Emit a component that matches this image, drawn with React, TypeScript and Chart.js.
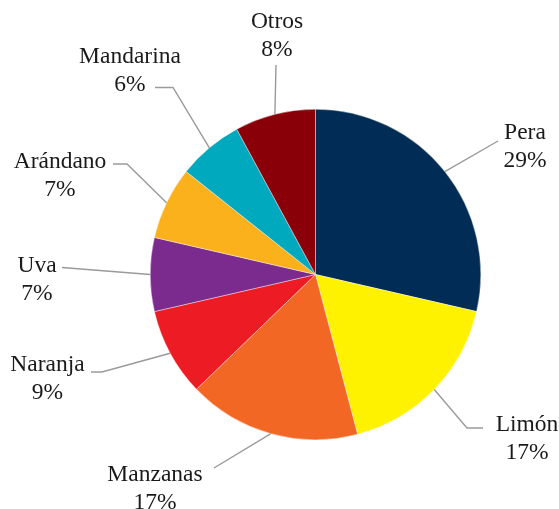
import React, { useEffect, useRef } from "react";
import { Chart, registerables } from "chart.js";

Chart.register(...registerables);

const categories = ["Pera", "Limón", "Manzanas", "Naranja", "Uva", "Arándano", "Mandarina", "Otros"];
const values = [28.6, 17.3, 16.9, 8.6, 7.2, 7.1, 6.4, 7.9];
const colors = ["#002C55", "#FFF200", "#F26724", "#ED1C24", "#7B2A8E", "#FBB11C", "#00A9BE", "#8A0008"];

// label layout: text centre x, first-line baseline y, leader path points (from label toward the pie)
const labelLayout = [
  { x: 525, y: 139, path: [[498, 141]] },
  { x: 527, y: 430.5, path: [[483, 428], [467, 428]] },
  { x: 155, y: 480.5, path: [[214, 468]] },
  { x: 47.5, y: 370.5, path: [[91, 372], [102, 372]] },
  { x: 37, y: 271.5, path: [[62, 267.5]] },
  { x: 60, y: 168.3, path: [[113, 164], [127, 164]] },
  { x: 130, y: 63, path: [[155, 87.5], [173, 87.5]] },
  { x: 277, y: 28, path: [[276, 65]] },
];

const FONT = '23.5px "Liberation Serif"';

const labelPlugin = {
  id: "pieLabels",
  afterDraw(chart: any) {
    const ctx = chart.ctx;
    const meta = chart.getDatasetMeta(0);
    const total = values.reduce((a, b) => a + b, 0);
    ctx.save();
    meta.data.forEach((arc: any, i: number) => {
      const p = arc.getProps(["x", "y", "startAngle", "endAngle", "outerRadius"], true);
      const mid = (p.startAngle + p.endAngle) / 2;
      const ax = p.x + Math.cos(mid) * p.outerRadius;
      const ay = p.y + Math.sin(mid) * p.outerRadius;
      const lay = labelLayout[i];
      ctx.beginPath();
      ctx.strokeStyle = "#9a9a9a";
      ctx.lineWidth = 1.4;
      ctx.moveTo(lay.path[0][0], lay.path[0][1]);
      for (let k = 1; k < lay.path.length; k++) ctx.lineTo(lay.path[k][0], lay.path[k][1]);
      ctx.lineTo(ax, ay);
      ctx.stroke();

      ctx.fillStyle = "#1a1a1a";
      ctx.font = FONT;
      ctx.textAlign = "center";
      ctx.textBaseline = "alphabetic";
      const pct = Math.round((values[i] / total) * 100) + "%";
      ctx.fillText(categories[i], lay.x, lay.y);
      ctx.fillText(pct, lay.x, lay.y + 28);
    });
    ctx.restore();
  },
};

export default function App() {
  const ref = useRef<HTMLCanvasElement>(null);
  useEffect(() => {
    if (!ref.current) return;
    const chart = new Chart(ref.current, {
      type: "pie",
      data: {
        labels: categories,
        datasets: [
          {
            data: values,
            backgroundColor: colors,
            borderColor: "#ffffff",
            borderWidth: 0.4,
          },
        ],
      },
      options: {
        responsive: false,
        animation: false,
        layout: { padding: { left: 150, right: 78, top: 109, bottom: 69 } },
        plugins: {
          legend: { display: false },
          tooltip: { enabled: false },
        },
      },
      plugins: [labelPlugin],
    });
    return () => chart.destroy();
  }, []);
  return (
    <div style={{ position: "fixed", left: 0, top: 0, width: 559, height: 509, background: "#fff" }}>
      <canvas ref={ref} width={559} height={509} style={{ display: "block" }} />
    </div>
  );
}
